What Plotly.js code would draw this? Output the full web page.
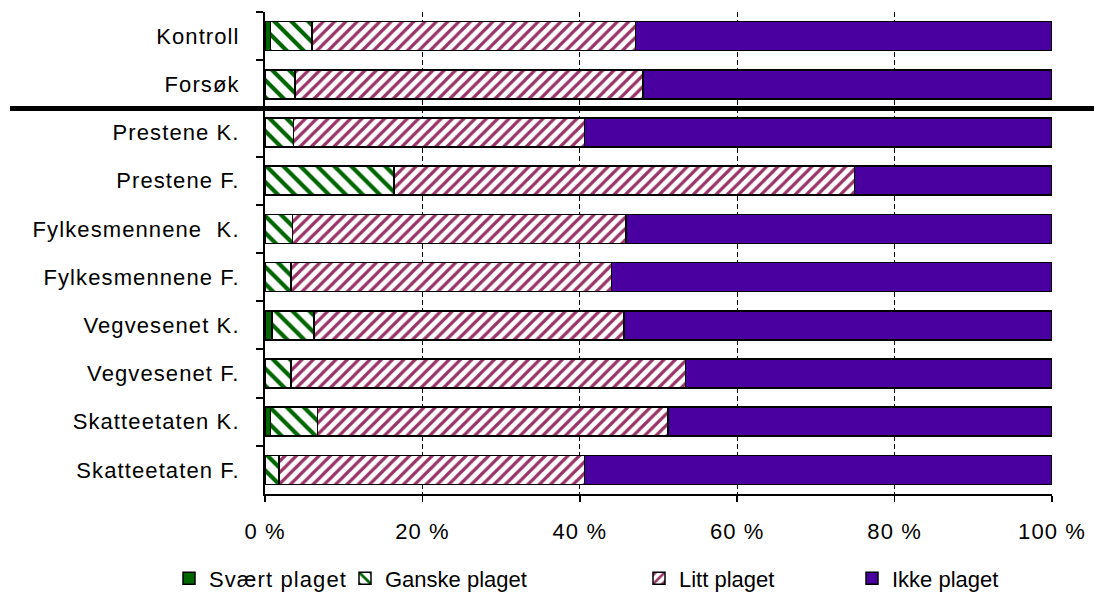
<!DOCTYPE html>
<html>
<head>
<meta charset="utf-8">
<script src="https://cdn.plot.ly/plotly-3.0.1.min.js"></script>
<style>
  html, body { margin: 0; padding: 0; background: #ffffff; }
  #chart { width: 1094px; height: 592px; }
  /* slightly wider lettering for the labels */
  #chart .ytick text, #chart .xtick text, #chart .legendtext { letter-spacing: 1.1px; }
</style>
</head>
<body>
<div id="chart"></div>
<script>
// Groups, top to bottom
const categories = [
  'Kontroll', 'Forsøk',
  'Prestene K.', 'Prestene F.',
  'Fylkesmennene  K.', 'Fylkesmennene F.',
  'Vegvesenet K.', 'Vegvesenet F.',
  'Skatteetaten K.', 'Skatteetaten F.'
];

// Share of respondents (%) in each answer category
const svaertPlaget = [0.7, 0.0, 0.0, 0.0, 0.0, 0.0, 0.9, 0.0, 0.7, 0.0];
const ganskePlaget = [5.3, 3.8, 3.6, 16.4, 3.5, 3.3, 5.3, 3.3, 6.0, 1.8];
const littPlaget   = [41.1, 44.2, 37.0, 58.5, 42.4, 40.7, 39.4, 50.1, 44.5, 38.8];
const ikkePlaget   = [52.9, 52.0, 59.4, 25.1, 54.1, 56.0, 54.4, 46.6, 48.8, 59.4];

const seriesNames = ['Svært plaget', 'Ganske plaget', 'Litt plaget', 'Ikke plaget'];
const xTickVals = [0, 20, 40, 60, 80, 100];
const xTickText = ['0 %', '20 %', '40 %', '60 %', '80 %', '100 %'];

const FONT = { family: 'Arial, "Liberation Sans", sans-serif', size: 22, color: '#000000' };
const GREEN = '#006600';
const MAROON = '#993366';
const PURPLE = '#4A00A0';
const outline = { color: '#000000', width: 1.5 };

const traces = [
  {
    name: seriesNames[0], x: svaertPlaget, legend: 'legend',
    marker: { color: GREEN, line: outline }
  },
  {
    name: seriesNames[1], x: ganskePlaget, legend: 'legend2',
    marker: {
      color: '#ffffff', line: outline,
      pattern: { shape: '\\', fgcolor: GREEN, bgcolor: '#ffffff', size: 12, solidity: 0.35 }
    }
  },
  {
    name: seriesNames[2], x: littPlaget, legend: 'legend3',
    marker: {
      color: '#ffffff', line: outline,
      pattern: { shape: '/', fgcolor: MAROON, bgcolor: '#ffffff', size: 8, solidity: 0.4 }
    }
  },
  {
    name: seriesNames[3], x: ikkePlaget, legend: 'legend4',
    marker: { color: PURPLE, line: outline }
  }
].map(t => Object.assign({
  type: 'bar', orientation: 'h', y: categories,
  hoverinfo: 'name+x'
}, t));

// Each legend entry sits at its own spot along the bottom row
function legendAt(px) {
  return {
    x: (px - 265) / 787, y: -0.175, xanchor: 'left', yanchor: 'middle',
    orientation: 'h', font: FONT, bgcolor: 'rgba(0,0,0,0)',
    borderwidth: 0, itemwidth: 30, entrywidth: 200, entrywidthmode: 'pixels'
  };
}

const layout = {
  width: 1094, height: 592,
  margin: { l: 265, r: 42, t: 12, b: 98, autoexpand: false },
  paper_bgcolor: '#ffffff', plot_bgcolor: '#ffffff',
  barmode: 'stack', bargap: 0.4,
  font: FONT,
  xaxis: {
    range: [0, 100], tickmode: 'array', tickvals: xTickVals, ticktext: xTickText,
    showgrid: true, gridcolor: '#000000', gridwidth: 1, griddash: '5px,3px',
    zeroline: false, showline: true, linecolor: '#000000', linewidth: 2,
    ticks: 'outside', ticklen: 6, tickwidth: 1.5, tickcolor: '#000000',
    ticklabelstandoff: 11, tickfont: FONT, fixedrange: true
  },
  yaxis: {
    type: 'category', categoryorder: 'array', categoryarray: categories,
    autorange: 'reversed',
    showgrid: false, zeroline: false,
    showline: true, linecolor: '#000000', linewidth: 2,
    ticks: 'outside', tickson: 'boundaries', ticklen: 7, tickwidth: 2, tickcolor: '#000000',
    ticklabelstandoff: 19, tickfont: FONT, fixedrange: true
  },
  showlegend: true,
  legend:  legendAt(169),
  legend2: legendAt(345),
  legend3: legendAt(639),
  legend4: legendAt(852),
  shapes: [
    // Separator between the overall groups and the individual agencies
    {
      type: 'line', xref: 'paper', yref: 'y', layer: 'above',
      x0: (10 - 265) / 787, x1: (1094 - 265) / 787, y0: 1.5, y1: 1.5,
      line: { color: '#000000', width: 5 }
    }
  ]
};

Plotly.newPlot('chart', traces, layout, { displayModeBar: false, staticPlot: true });
</script>
</body>
</html>
